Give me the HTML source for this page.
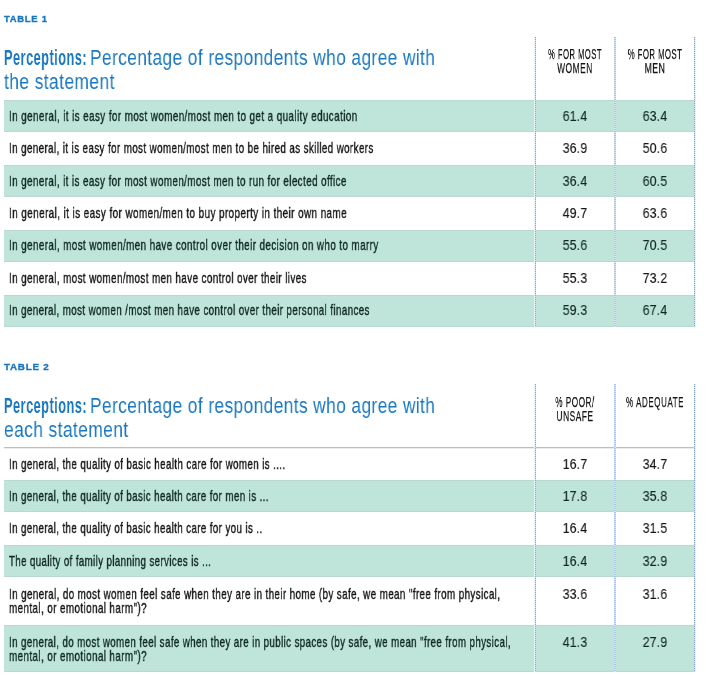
<!DOCTYPE html>
<html><head><meta charset="utf-8"><style>
html,body{margin:0;padding:0;background:#fff;width:709px;height:675px;overflow:hidden}
body{position:relative;font-family:'Liberation Sans', sans-serif}
#w{position:absolute;left:0;top:0;width:709px;height:675px;background:#fff;}
.t{position:absolute;white-space:nowrap;transform-origin:0 50%;will-change:transform;}
.r{position:absolute}
.d{position:absolute}
</style></head><body><div id="w">
<div class="r" style="left:4px;top:100px;width:691px;height:32px;background:#bfe4da"></div>
<div class="r" style="left:4px;top:100px;width:691px;height:1px;background:#bad8d2"></div>
<div class="r" style="left:4px;top:131px;width:691px;height:1px;background:#bad8d2"></div>
<div class="t" style="left:9.00px;top:109.00px;font-size:14.6px;line-height:14.6px;font-weight:400;color:#0f2a23;transform:scaleX(0.6756);letter-spacing:0.6px;-webkit-text-stroke:0.4px #0f2a23;">In general, it is easy for most women/most men to get a quality education</div>
<div class="t" style="left:425.00px;width:300px;text-align:center;top:108.00px;font-size:15px;line-height:15px;font-weight:400;color:#0f2a23;transform:scaleX(0.8200);transform-origin:50% 50%;letter-spacing:0.2px;-webkit-text-stroke:0.15px #0f2a23;">61.4</div>
<div class="t" style="left:505.00px;width:300px;text-align:center;top:108.00px;font-size:15px;line-height:15px;font-weight:400;color:#0f2a23;transform:scaleX(0.8200);transform-origin:50% 50%;letter-spacing:0.2px;-webkit-text-stroke:0.15px #0f2a23;">63.4</div>
<div class="t" style="left:9.00px;top:141.00px;font-size:14.6px;line-height:14.6px;font-weight:400;color:#161616;transform:scaleX(0.6702);letter-spacing:0.6px;-webkit-text-stroke:0.4px #161616;">In general, it is easy for most women/most men to be hired as skilled workers</div>
<div class="t" style="left:425.00px;width:300px;text-align:center;top:140.00px;font-size:15px;line-height:15px;font-weight:400;color:#161616;transform:scaleX(0.8200);transform-origin:50% 50%;letter-spacing:0.2px;-webkit-text-stroke:0.15px #161616;">36.9</div>
<div class="t" style="left:505.00px;width:300px;text-align:center;top:140.00px;font-size:15px;line-height:15px;font-weight:400;color:#161616;transform:scaleX(0.8200);transform-origin:50% 50%;letter-spacing:0.2px;-webkit-text-stroke:0.15px #161616;">50.6</div>
<div class="r" style="left:4px;top:165px;width:691px;height:32px;background:#bfe4da"></div>
<div class="r" style="left:4px;top:165px;width:691px;height:1px;background:#bad8d2"></div>
<div class="r" style="left:4px;top:196px;width:691px;height:1px;background:#bad8d2"></div>
<div class="t" style="left:9.00px;top:174.00px;font-size:14.6px;line-height:14.6px;font-weight:400;color:#0f2a23;transform:scaleX(0.6740);letter-spacing:0.6px;-webkit-text-stroke:0.4px #0f2a23;">In general, it is easy for most women/most men to run for elected office</div>
<div class="t" style="left:425.00px;width:300px;text-align:center;top:173.00px;font-size:15px;line-height:15px;font-weight:400;color:#0f2a23;transform:scaleX(0.8200);transform-origin:50% 50%;letter-spacing:0.2px;-webkit-text-stroke:0.15px #0f2a23;">36.4</div>
<div class="t" style="left:505.00px;width:300px;text-align:center;top:173.00px;font-size:15px;line-height:15px;font-weight:400;color:#0f2a23;transform:scaleX(0.8200);transform-origin:50% 50%;letter-spacing:0.2px;-webkit-text-stroke:0.15px #0f2a23;">60.5</div>
<div class="t" style="left:9.00px;top:206.00px;font-size:14.6px;line-height:14.6px;font-weight:400;color:#161616;transform:scaleX(0.6802);letter-spacing:0.6px;-webkit-text-stroke:0.4px #161616;">In general, it is easy for women/men to buy property in their own name</div>
<div class="t" style="left:425.00px;width:300px;text-align:center;top:205.00px;font-size:15px;line-height:15px;font-weight:400;color:#161616;transform:scaleX(0.8200);transform-origin:50% 50%;letter-spacing:0.2px;-webkit-text-stroke:0.15px #161616;">49.7</div>
<div class="t" style="left:505.00px;width:300px;text-align:center;top:205.00px;font-size:15px;line-height:15px;font-weight:400;color:#161616;transform:scaleX(0.8200);transform-origin:50% 50%;letter-spacing:0.2px;-webkit-text-stroke:0.15px #161616;">63.6</div>
<div class="r" style="left:4px;top:230px;width:691px;height:32px;background:#bfe4da"></div>
<div class="r" style="left:4px;top:230px;width:691px;height:1px;background:#bad8d2"></div>
<div class="r" style="left:4px;top:261px;width:691px;height:1px;background:#bad8d2"></div>
<div class="t" style="left:9.00px;top:238.00px;font-size:14.6px;line-height:14.6px;font-weight:400;color:#0f2a23;transform:scaleX(0.6747);letter-spacing:0.6px;-webkit-text-stroke:0.4px #0f2a23;">In general, most women/men have control over their decision on who to marry</div>
<div class="t" style="left:425.00px;width:300px;text-align:center;top:237.00px;font-size:15px;line-height:15px;font-weight:400;color:#0f2a23;transform:scaleX(0.8200);transform-origin:50% 50%;letter-spacing:0.2px;-webkit-text-stroke:0.15px #0f2a23;">55.6</div>
<div class="t" style="left:505.00px;width:300px;text-align:center;top:237.00px;font-size:15px;line-height:15px;font-weight:400;color:#0f2a23;transform:scaleX(0.8200);transform-origin:50% 50%;letter-spacing:0.2px;-webkit-text-stroke:0.15px #0f2a23;">70.5</div>
<div class="t" style="left:9.00px;top:271.00px;font-size:14.6px;line-height:14.6px;font-weight:400;color:#161616;transform:scaleX(0.6737);letter-spacing:0.6px;-webkit-text-stroke:0.4px #161616;">In general, most women/most men have control over their lives</div>
<div class="t" style="left:425.00px;width:300px;text-align:center;top:270.00px;font-size:15px;line-height:15px;font-weight:400;color:#161616;transform:scaleX(0.8200);transform-origin:50% 50%;letter-spacing:0.2px;-webkit-text-stroke:0.15px #161616;">55.3</div>
<div class="t" style="left:505.00px;width:300px;text-align:center;top:270.00px;font-size:15px;line-height:15px;font-weight:400;color:#161616;transform:scaleX(0.8200);transform-origin:50% 50%;letter-spacing:0.2px;-webkit-text-stroke:0.15px #161616;">73.2</div>
<div class="r" style="left:4px;top:295px;width:691px;height:32px;background:#bfe4da"></div>
<div class="r" style="left:4px;top:295px;width:691px;height:1px;background:#bad8d2"></div>
<div class="r" style="left:4px;top:326px;width:691px;height:1px;background:#bad8d2"></div>
<div class="t" style="left:9.00px;top:303.00px;font-size:14.6px;line-height:14.6px;font-weight:400;color:#0f2a23;transform:scaleX(0.6693);letter-spacing:0.6px;-webkit-text-stroke:0.4px #0f2a23;">In general, most women /most men have control over their personal finances</div>
<div class="t" style="left:425.00px;width:300px;text-align:center;top:302.00px;font-size:15px;line-height:15px;font-weight:400;color:#0f2a23;transform:scaleX(0.8200);transform-origin:50% 50%;letter-spacing:0.2px;-webkit-text-stroke:0.15px #0f2a23;">59.3</div>
<div class="t" style="left:505.00px;width:300px;text-align:center;top:302.00px;font-size:15px;line-height:15px;font-weight:400;color:#0f2a23;transform:scaleX(0.8200);transform-origin:50% 50%;letter-spacing:0.2px;-webkit-text-stroke:0.15px #0f2a23;">67.4</div>
<div class="d" style="left:534px;top:37px;height:290px;width:1px;background:repeating-linear-gradient(to bottom,#e2eef7 0,#e2eef7 1px,#edf5fb 1px,#edf5fb 2px)"></div>
<div class="d" style="left:535px;top:37px;height:290px;width:1px;background:repeating-linear-gradient(to bottom,#86a6cc 0,#86a6cc 1px,#cde0f2 1px,#cde0f2 2px)"></div>
<div class="d" style="left:614px;top:37px;height:290px;width:2px;background:repeating-linear-gradient(to bottom,#a9c3e2 0,#a9c3e2 1px,#d8e8f7 1px,#d8e8f7 2px)"></div>
<div class="d" style="left:694px;top:37px;height:290px;width:1px;background:repeating-linear-gradient(to bottom,#84a2c2 0,#84a2c2 1px,#cde2f0 1px,#cde2f0 2px)"></div>
<div class="d" style="left:695px;top:37px;height:290px;width:1px;background:repeating-linear-gradient(to bottom,#e0eff7 0,#e0eff7 1px,#eaf4fa 1px,#eaf4fa 2px)"></div>
<div class="t" style="left:4.00px;top:15.00px;font-size:9px;line-height:9px;font-weight:700;color:#1a78c2;transform:scaleX(1.0455);letter-spacing:0.7px;-webkit-text-stroke:0.35px #1a78c2;">TABLE 1</div>
<div class="t" style="left:4.30px;top:48.00px;font-size:21.4px;line-height:21.4px;font-weight:700;color:#1a78c2;transform:scaleX(0.5970);letter-spacing:0.8px;">Perceptions:</div>
<div class="t" style="left:90.30px;top:48.00px;font-size:21.4px;line-height:21.4px;font-weight:400;color:#1a78c2;transform:scaleX(0.8093);letter-spacing:0.5px;">Percentage of respondents who agree with</div>
<div class="t" style="left:4.30px;top:72.00px;font-size:21.4px;line-height:21.4px;font-weight:400;color:#1a78c2;transform:scaleX(0.8141);letter-spacing:0.5px;">the statement</div>
<div class="t" style="left:425.00px;width:300px;text-align:center;top:47.00px;font-size:14.4px;line-height:14.4px;font-weight:400;color:#161616;transform:scaleX(0.5300);transform-origin:50% 50%;letter-spacing:0.9px;-webkit-text-stroke:0.25px #161616;">% FOR MOST</div>
<div class="t" style="left:425.00px;width:300px;text-align:center;top:61.00px;font-size:14.4px;line-height:14.4px;font-weight:400;color:#161616;transform:scaleX(0.5808);transform-origin:50% 50%;letter-spacing:0.9px;-webkit-text-stroke:0.25px #161616;">WOMEN</div>
<div class="t" style="left:505.00px;width:300px;text-align:center;top:47.00px;font-size:14.4px;line-height:14.4px;font-weight:400;color:#161616;transform:scaleX(0.5359);transform-origin:50% 50%;letter-spacing:0.9px;-webkit-text-stroke:0.25px #161616;">% FOR MOST</div>
<div class="t" style="left:505.00px;width:300px;text-align:center;top:61.00px;font-size:14.4px;line-height:14.4px;font-weight:400;color:#161616;transform:scaleX(0.5999);transform-origin:50% 50%;letter-spacing:0.9px;-webkit-text-stroke:0.25px #161616;">MEN</div>
<div class="t" style="left:9.00px;top:457.00px;font-size:14.6px;line-height:14.6px;font-weight:400;color:#161616;transform:scaleX(0.6673);letter-spacing:0.6px;-webkit-text-stroke:0.4px #161616;">In general, the quality of basic health care for women is ....</div>
<div class="t" style="left:425.00px;width:300px;text-align:center;top:456.00px;font-size:15px;line-height:15px;font-weight:400;color:#161616;transform:scaleX(0.8200);transform-origin:50% 50%;letter-spacing:0.2px;-webkit-text-stroke:0.15px #161616;">16.7</div>
<div class="t" style="left:505.00px;width:300px;text-align:center;top:456.00px;font-size:15px;line-height:15px;font-weight:400;color:#161616;transform:scaleX(0.8200);transform-origin:50% 50%;letter-spacing:0.2px;-webkit-text-stroke:0.15px #161616;">34.7</div>
<div class="r" style="left:4px;top:480px;width:691px;height:32px;background:#bfe4da"></div>
<div class="r" style="left:4px;top:480px;width:691px;height:1px;background:#bad8d2"></div>
<div class="r" style="left:4px;top:511px;width:691px;height:1px;background:#bad8d2"></div>
<div class="t" style="left:9.00px;top:489.00px;font-size:14.6px;line-height:14.6px;font-weight:400;color:#0f2a23;transform:scaleX(0.6665);letter-spacing:0.6px;-webkit-text-stroke:0.4px #0f2a23;">In general, the quality of basic health care for men is ...</div>
<div class="t" style="left:425.00px;width:300px;text-align:center;top:488.00px;font-size:15px;line-height:15px;font-weight:400;color:#0f2a23;transform:scaleX(0.8200);transform-origin:50% 50%;letter-spacing:0.2px;-webkit-text-stroke:0.15px #0f2a23;">17.8</div>
<div class="t" style="left:505.00px;width:300px;text-align:center;top:488.00px;font-size:15px;line-height:15px;font-weight:400;color:#0f2a23;transform:scaleX(0.8200);transform-origin:50% 50%;letter-spacing:0.2px;-webkit-text-stroke:0.15px #0f2a23;">35.8</div>
<div class="t" style="left:9.00px;top:521.00px;font-size:14.6px;line-height:14.6px;font-weight:400;color:#161616;transform:scaleX(0.6666);letter-spacing:0.6px;-webkit-text-stroke:0.4px #161616;">In general, the quality of basic health care for you is ..</div>
<div class="t" style="left:425.00px;width:300px;text-align:center;top:520.00px;font-size:15px;line-height:15px;font-weight:400;color:#161616;transform:scaleX(0.8200);transform-origin:50% 50%;letter-spacing:0.2px;-webkit-text-stroke:0.15px #161616;">16.4</div>
<div class="t" style="left:505.00px;width:300px;text-align:center;top:520.00px;font-size:15px;line-height:15px;font-weight:400;color:#161616;transform:scaleX(0.8200);transform-origin:50% 50%;letter-spacing:0.2px;-webkit-text-stroke:0.15px #161616;">31.5</div>
<div class="r" style="left:4px;top:545px;width:691px;height:32px;background:#bfe4da"></div>
<div class="r" style="left:4px;top:545px;width:691px;height:1px;background:#bad8d2"></div>
<div class="r" style="left:4px;top:576px;width:691px;height:1px;background:#bad8d2"></div>
<div class="t" style="left:9.00px;top:554.00px;font-size:14.6px;line-height:14.6px;font-weight:400;color:#0f2a23;transform:scaleX(0.6633);letter-spacing:0.6px;-webkit-text-stroke:0.4px #0f2a23;">The quality of family planning services is ...</div>
<div class="t" style="left:425.00px;width:300px;text-align:center;top:553.00px;font-size:15px;line-height:15px;font-weight:400;color:#0f2a23;transform:scaleX(0.8200);transform-origin:50% 50%;letter-spacing:0.2px;-webkit-text-stroke:0.15px #0f2a23;">16.4</div>
<div class="t" style="left:505.00px;width:300px;text-align:center;top:553.00px;font-size:15px;line-height:15px;font-weight:400;color:#0f2a23;transform:scaleX(0.8200);transform-origin:50% 50%;letter-spacing:0.2px;-webkit-text-stroke:0.15px #0f2a23;">32.9</div>
<div class="t" style="left:9.00px;top:587.00px;font-size:14.6px;line-height:14.6px;font-weight:400;color:#161616;transform:scaleX(0.6710);letter-spacing:0.6px;-webkit-text-stroke:0.4px #161616;">In general, do most women feel safe when they are in their home (by safe, we mean "free from physical,</div>
<div class="t" style="left:9.00px;top:601.00px;font-size:14.6px;line-height:14.6px;font-weight:400;color:#161616;transform:scaleX(0.6749);letter-spacing:0.6px;-webkit-text-stroke:0.4px #161616;">mental, or emotional harm")?</div>
<div class="t" style="left:425.00px;width:300px;text-align:center;top:586.00px;font-size:15px;line-height:15px;font-weight:400;color:#161616;transform:scaleX(0.8200);transform-origin:50% 50%;letter-spacing:0.2px;-webkit-text-stroke:0.15px #161616;">33.6</div>
<div class="t" style="left:505.00px;width:300px;text-align:center;top:586.00px;font-size:15px;line-height:15px;font-weight:400;color:#161616;transform:scaleX(0.8200);transform-origin:50% 50%;letter-spacing:0.2px;-webkit-text-stroke:0.15px #161616;">31.6</div>
<div class="r" style="left:4px;top:625px;width:691px;height:47px;background:#bfe4da"></div>
<div class="r" style="left:4px;top:625px;width:691px;height:1px;background:#bad8d2"></div>
<div class="r" style="left:4px;top:671px;width:691px;height:1px;background:#bad8d2"></div>
<div class="t" style="left:9.00px;top:635.00px;font-size:14.6px;line-height:14.6px;font-weight:400;color:#0f2a23;transform:scaleX(0.6660);letter-spacing:0.6px;-webkit-text-stroke:0.4px #0f2a23;">In general, do most women feel safe when they are in public spaces (by safe, we mean "free from physical,</div>
<div class="t" style="left:9.00px;top:649.00px;font-size:14.6px;line-height:14.6px;font-weight:400;color:#0f2a23;transform:scaleX(0.6749);letter-spacing:0.6px;-webkit-text-stroke:0.4px #0f2a23;">mental, or emotional harm")?</div>
<div class="t" style="left:425.00px;width:300px;text-align:center;top:634.00px;font-size:15px;line-height:15px;font-weight:400;color:#0f2a23;transform:scaleX(0.8200);transform-origin:50% 50%;letter-spacing:0.2px;-webkit-text-stroke:0.15px #0f2a23;">41.3</div>
<div class="t" style="left:505.00px;width:300px;text-align:center;top:634.00px;font-size:15px;line-height:15px;font-weight:400;color:#0f2a23;transform:scaleX(0.8200);transform-origin:50% 50%;letter-spacing:0.2px;-webkit-text-stroke:0.15px #0f2a23;">27.9</div>
<div class="r" style="left:4px;top:447px;width:691px;height:1px;background:#bdbdbd"></div>
<div class="r" style="left:4px;top:448px;width:691px;height:1px;background:#ececec"></div>
<div class="d" style="left:534px;top:384px;height:288px;width:1px;background:repeating-linear-gradient(to bottom,#e2eef7 0,#e2eef7 1px,#edf5fb 1px,#edf5fb 2px)"></div>
<div class="d" style="left:535px;top:384px;height:288px;width:1px;background:repeating-linear-gradient(to bottom,#86a6cc 0,#86a6cc 1px,#cde0f2 1px,#cde0f2 2px)"></div>
<div class="d" style="left:614px;top:384px;height:288px;width:2px;background:repeating-linear-gradient(to bottom,#a9c3e2 0,#a9c3e2 1px,#d8e8f7 1px,#d8e8f7 2px)"></div>
<div class="d" style="left:694px;top:384px;height:288px;width:1px;background:repeating-linear-gradient(to bottom,#84a2c2 0,#84a2c2 1px,#cde2f0 1px,#cde2f0 2px)"></div>
<div class="d" style="left:695px;top:384px;height:288px;width:1px;background:repeating-linear-gradient(to bottom,#e0eff7 0,#e0eff7 1px,#eaf4fa 1px,#eaf4fa 2px)"></div>
<div class="t" style="left:4.00px;top:363.00px;font-size:9px;line-height:9px;font-weight:700;color:#1a78c2;transform:scaleX(1.0884);letter-spacing:0.7px;-webkit-text-stroke:0.35px #1a78c2;">TABLE 2</div>
<div class="t" style="left:4.30px;top:396.00px;font-size:21.4px;line-height:21.4px;font-weight:700;color:#1a78c2;transform:scaleX(0.5970);letter-spacing:0.8px;">Perceptions:</div>
<div class="t" style="left:90.30px;top:396.00px;font-size:21.4px;line-height:21.4px;font-weight:400;color:#1a78c2;transform:scaleX(0.8093);letter-spacing:0.5px;">Percentage of respondents who agree with</div>
<div class="t" style="left:4.30px;top:420.00px;font-size:21.4px;line-height:21.4px;font-weight:400;color:#1a78c2;transform:scaleX(0.8127);letter-spacing:0.5px;">each statement</div>
<div class="t" style="left:425.00px;width:300px;text-align:center;top:395.00px;font-size:14.4px;line-height:14.4px;font-weight:400;color:#161616;transform:scaleX(0.5688);transform-origin:50% 50%;letter-spacing:0.9px;-webkit-text-stroke:0.25px #161616;">% POOR/</div>
<div class="t" style="left:425.00px;width:300px;text-align:center;top:409.00px;font-size:14.4px;line-height:14.4px;font-weight:400;color:#161616;transform:scaleX(0.5797);transform-origin:50% 50%;letter-spacing:0.9px;-webkit-text-stroke:0.25px #161616;">UNSAFE</div>
<div class="t" style="left:505.00px;width:300px;text-align:center;top:395.00px;font-size:14.4px;line-height:14.4px;font-weight:400;color:#161616;transform:scaleX(0.5636);transform-origin:50% 50%;letter-spacing:0.9px;-webkit-text-stroke:0.25px #161616;">% ADEQUATE</div>
</div></body></html>
